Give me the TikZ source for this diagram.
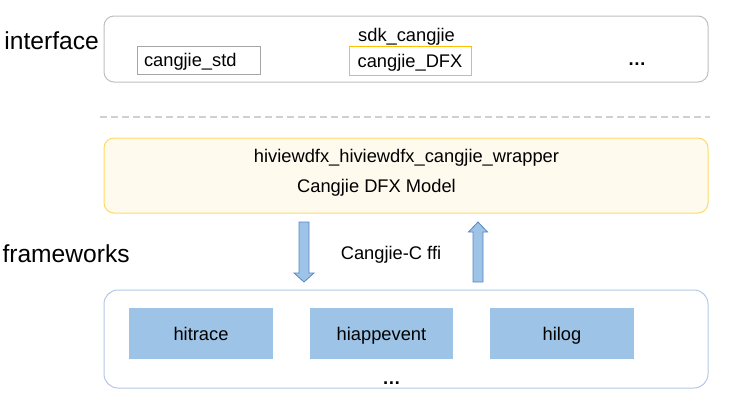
\documentclass[tikz,border=0pt]{standalone}
\usepackage{fontspec}
\setmainfont{Liberation Sans}
\usetikzlibrary{positioning}
\definecolor{boxgray}{HTML}{BFBFBF}
\definecolor{stdgray}{HTML}{A6A6A6}
\definecolor{dfxorange}{HTML}{FFC000}
\definecolor{modelfill}{HTML}{FFFAEE}
\definecolor{modeldraw}{HTML}{FFD966}
\definecolor{fwdraw}{HTML}{B4C7E7}
\definecolor{libblue}{HTML}{9DC3E6}
\definecolor{arrowdraw}{HTML}{5B84C4}
\definecolor{dashgray}{HTML}{D0D0D0}

\begin{document}
\begin{tikzpicture}[x=1pt,y=-1pt,line width=1pt]
	  \tikzstyle{every node}=[font=\fontsize{18.3}{22}\selectfont,inner sep=0pt]
	  \tikzstyle{layer}=[rectangle,rounded corners=10pt,minimum width=604pt]
	  \tikzstyle{lib}=[rectangle,text height=13pt,text depth=0pt]
	  \tikzstyle{side}=[font=\fontsize{24.6}{28}\selectfont,anchor=base west]
	  \tikzstyle{dots}=[font=\fontsize{18.3}{22}\selectfont\bfseries,anchor=base]
	  \tikzstyle{blockarrow}=[fill=libblue,draw=arrowdraw,line width=0.8pt,line join=miter]

	  \useasboundingbox (0,0) rectangle (737,407);

	  % interface layer
	  \node[layer,draw=boxgray,minimum height=66pt] (I) at (406,49) {};
	  \node[anchor=base] (SDK) at (406.5,41) {sdk\_cangjie};
	  \node[lib,draw=stdgray,inner xsep=7pt,text width=109pt,align=left,minimum height=28pt] (STD) at (198.5,60) {cangjie\_std};
	  \node[lib,draw=dfxorange,minimum width=122pt,minimum height=29pt] (DFX) at (410,60.5) {cangjie\_DFX};
	  \node[dots] (MORE) at (637,65) {…};
	  \node[side] (IF) at (4,49) {interface};

	  \draw[dashgray,line width=2pt,dash pattern=on 7pt off 4pt] (100,117) -- (710,117);

	  % wrapper
	  \node[layer,draw=modeldraw,fill=modelfill,minimum height=75pt] (M) at (406,175.5) {};
	  \node[anchor=base] (WRAP) at (406.5,162) {hiviewdfx\_hiviewdfx\_cangjie\_wrapper};
	  \node[anchor=base] (MODEL) at (376.5,192) {Cangjie DFX Model};

	  % ffi
	  \draw[blockarrow] (299,222) -- (309,222) -- (309,273) -- (314,273) -- (304,282) -- (294,273) -- (299,273) -- cycle;
	  \draw[blockarrow] (473,282) -- (483,282) -- (483,232) -- (487.5,232) -- (478,222) -- (468.5,232) -- (473,232) -- cycle;
	  \node[anchor=base] (FFI) at (391,259) {Cangjie-C ffi};
	  \node[side] (FW) at (2,262) {frameworks};

	  % frameworks layer
	  \node[layer,draw=fwdraw,rounded corners=14pt,minimum height=98pt] (F) at (406,339) {};
	  \node[lib,fill=libblue,minimum width=144pt,minimum height=51pt] (HT) at (201,333.5) {hitrace};
	  \node[lib,fill=libblue,minimum width=143pt,minimum height=51pt] (HA) at (381.5,333.5) {hiappevent};
	  \node[lib,fill=libblue,minimum width=144pt,minimum height=51pt] (HL) at (562,333.5) {hilog};
	  \node[dots] (ETC) at (391.5,384) {…};
	\end{tikzpicture}
\end{document}
